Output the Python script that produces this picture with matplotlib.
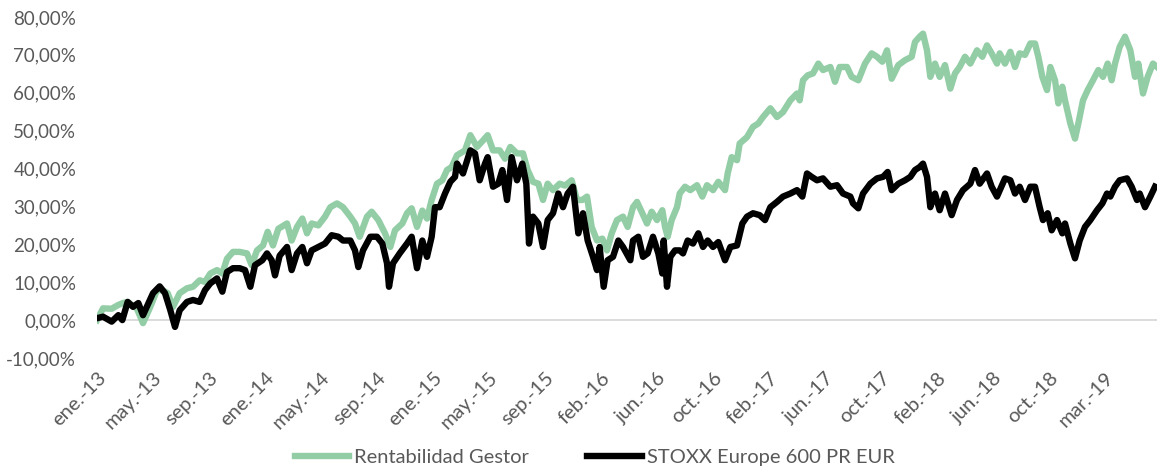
import matplotlib
matplotlib.use('Agg')
import matplotlib.pyplot as plt
from matplotlib.ticker import FuncFormatter

# Rentabilidad acumulada (%), x = numero de sesion desde ene.-13
gestor_dia = [0, 9, 22, 32, 39, 46, 60, 69, 80, 90, 98, 106, 114, 124, 135, 144,
              154, 162, 170, 180, 188, 195, 204, 214, 225, 232, 240, 249, 256, 264,
              272, 285, 292, 300, 308, 315, 322, 332, 342, 350, 360, 369, 380, 387,
              394, 405, 412, 422, 432, 440, 447, 458, 465, 472, 480, 488, 495, 502,
              510, 518, 525, 532, 540, 552, 560, 570, 579, 586, 594, 604, 612, 620,
              630, 639, 646, 654, 662, 669, 676, 684, 694, 702, 712, 720, 728, 735,
              742, 750, 758, 765, 772, 780, 789, 796, 804, 810, 818, 825, 832, 840,
              848, 852, 856, 862, 870, 874, 882, 890, 900, 908, 915, 924, 932, 942,
              946, 952, 960, 964, 975, 984, 992, 999, 1010, 1020, 1029, 1040, 1050,
              1054, 1059, 1066, 1074, 1082, 1089, 1100, 1107, 1114, 1125, 1132, 1142,
              1152, 1162, 1170, 1178, 1185, 1192, 1202, 1212, 1222, 1227, 1234, 1239,
              1245, 1250, 1257, 1264, 1272, 1280, 1287, 1294, 1302, 1310, 1320, 1328,
              1335, 1342, 1350, 1354, 1362, 1370, 1377, 1384, 1392, 1400, 1407, 1412,
              1418, 1425, 1430, 1437, 1442, 1448, 1452, 1460, 1467, 1472, 1479, 1486,
              1494, 1502, 1509, 1516, 1522, 1527, 1534, 1542, 1550, 1557, 1562, 1569,
              1576, 1584, 1590]
gestor_ret = [0.0, 3.1, 3.0, 4.0, 4.5, 4.8, 3.0, -0.8, 3.5, 7.9, 7.9, 7.1, 3.5, 7.1,
              8.4, 8.8, 10.5, 10.1, 12.3, 13.2, 12.3, 16.2, 18.0, 18.0, 17.6, 14.5,
              18.4, 19.7, 23.3, 19.7, 24.1, 25.5, 21.0, 24.6, 26.8, 22.9, 25.5, 25.0,
              27.3, 29.8, 30.8, 29.8, 27.3, 25.5, 22.0, 27.3, 28.6, 26.4, 22.9, 19.3,
              23.7, 25.5, 28.2, 29.5, 24.6, 28.9, 26.8, 31.7, 36.0, 36.9, 39.6, 40.4,
              43.5, 44.8, 48.8, 45.7, 47.4, 48.8, 44.8, 44.8, 42.6, 45.7, 44.0, 44.0,
              39.6, 36.5, 36.0, 31.7, 36.0, 34.3, 36.0, 35.5, 36.9, 31.7, 31.7, 32.6,
              24.6, 21.0, 21.5, 18.4, 22.9, 26.4, 27.3, 24.6, 29.8, 31.2, 28.2, 25.5,
              28.6, 26.4, 29.0, 24.6, 22.0, 26.4, 29.8, 33.4, 35.2, 34.3, 35.6, 32.6,
              35.6, 34.3, 36.5, 34.3, 38.7, 43.0, 42.2, 46.6, 48.3, 51.0, 51.9, 53.6,
              55.9, 53.6, 54.9, 58.0, 59.8, 58.0, 63.3, 64.6, 65.1, 67.7, 66.0, 66.8,
              62.9, 66.8, 66.8, 64.2, 63.3, 67.7, 70.4, 69.5, 68.2, 71.2, 63.7, 67.3,
              68.6, 69.5, 73.4, 74.8, 75.6, 71.2, 64.2, 67.7, 64.2, 67.3, 61.1, 65.1,
              66.8, 69.5, 67.7, 71.2, 69.5, 72.5, 70.4, 67.7, 70.4, 67.7, 70.8, 66.8,
              70.4, 70.0, 73.0, 73.0, 69.5, 64.2, 60.7, 66.8, 63.3, 57.2, 61.6, 58.0,
              51.9, 47.9, 51.9, 58.0, 60.7, 63.3, 66.0, 64.2, 67.7, 63.3, 67.7, 72.1,
              74.8, 71.2, 64.2, 67.7, 59.8, 64.2, 67.7, 66.8]

stoxx_dia = [0, 9, 22, 32, 38, 46, 54, 62, 69, 76, 84, 94, 102, 110, 117, 124, 135,
             144, 154, 162, 170, 180, 188, 195, 204, 214, 222, 230, 237, 248, 255, 262,
             267, 274, 285, 292, 300, 308, 315, 322, 332, 342, 352, 362, 369, 380, 387,
             392, 399, 410, 420, 428, 435, 438, 444, 454, 465, 472, 480, 488, 495, 502,
             507, 514, 522, 530, 537, 540, 549, 560, 567, 574, 582, 586, 594, 602, 608,
             615, 622, 630, 638, 644, 648, 654, 662, 669, 676, 684, 692, 699, 706, 714,
             722, 729, 736, 744, 750, 754, 760, 766, 774, 782, 789, 800, 804, 812, 819,
             826, 834, 842, 848, 850, 855, 860, 867, 874, 879, 886, 894, 902, 909, 916,
             924, 932, 942, 950, 960, 968, 975, 984, 994, 1002, 1010, 1020, 1029, 1040,
             1050, 1058, 1065, 1072, 1080, 1089, 1100, 1110, 1119, 1130, 1134, 1142,
             1149, 1160, 1170, 1179, 1186, 1192, 1202, 1212, 1220, 1227, 1234, 1239,
             1245, 1250, 1257, 1264, 1272, 1282, 1290, 1299, 1310, 1317, 1324, 1335,
             1342, 1350, 1362, 1370, 1377, 1384, 1392, 1400, 1407, 1414, 1419, 1426,
             1432, 1440, 1448, 1452, 1460, 1467, 1474, 1482, 1490, 1500, 1508, 1515,
             1520, 1527, 1534, 1545, 1552, 1560, 1564, 1572, 1580, 1587]
stoxx_ret = [0.5, 0.9, -0.4, 1.3, 0.0, 4.8, 3.5, 4.5, 1.3, 4.0, 7.1, 8.9, 7.1, 2.6,
             -1.8, 2.6, 4.8, 5.3, 4.8, 7.9, 9.7, 11.0, 7.5, 12.7, 13.7, 13.7, 13.2, 8.8,
             14.5, 15.8, 17.6, 15.8, 11.8, 17.0, 19.3, 13.2, 17.6, 19.3, 15.0, 18.4,
             19.3, 20.2, 22.4, 22.0, 21.0, 21.0, 18.4, 14.0, 18.4, 22.0, 22.0, 20.2,
             15.0, 8.8, 15.0, 17.6, 20.2, 22.0, 13.7, 21.0, 16.7, 22.0, 29.8, 29.8,
             33.4, 36.5, 37.8, 41.3, 38.7, 44.8, 44.0, 36.9, 41.3, 43.0, 35.2, 36.0,
             39.6, 31.7, 43.0, 36.9, 41.3, 36.0, 20.2, 27.3, 25.5, 19.3, 26.4, 28.2,
             33.4, 29.8, 33.4, 35.2, 22.9, 28.2, 21.0, 16.7, 13.2, 19.3, 8.8, 15.8,
             16.7, 21.0, 19.3, 15.8, 21.0, 22.0, 16.7, 17.6, 22.0, 17.6, 12.3, 21.0,
             8.8, 16.7, 18.4, 18.4, 17.6, 21.0, 20.2, 22.9, 19.3, 21.0, 19.3, 20.6,
             15.8, 19.3, 19.7, 25.5, 27.3, 28.2, 27.7, 26.4, 29.8, 31.2, 32.6, 33.4,
             34.3, 32.6, 38.7, 37.8, 36.9, 37.4, 35.2, 35.6, 33.4, 32.6, 30.8, 29.5,
             33.4, 36.0, 37.4, 37.8, 39.1, 34.3, 36.0, 36.9, 37.8, 39.6, 40.4, 41.3,
             37.8, 29.8, 33.4, 29.0, 33.4, 27.7, 31.7, 34.3, 36.0, 39.6, 36.0, 38.7,
             35.2, 32.6, 37.4, 36.9, 33.4, 35.2, 31.7, 35.2, 35.2, 29.8, 26.4, 28.2,
             23.7, 26.4, 22.9, 25.5, 20.2, 16.3, 21.0, 24.6, 26.4, 29.0, 30.8, 33.4,
             32.6, 35.2, 36.9, 37.4, 35.2, 31.7, 33.4, 29.8, 32.6, 35.2]

etiquetas = ['ene.-13', 'may.-13', 'sep.-13', 'ene.-14', 'may.-14', 'sep.-14',
             'ene.-15', 'may.-15', 'sep.-15', 'feb.-16', 'jun.-16', 'oct.-16',
             'feb.-17', 'jun.-17', 'oct.-17', 'feb.-18', 'jun.-18', 'oct.-18',
             'mar.-19']
paso_etiqueta = 84  # sesiones entre etiquetas
total_dias = 1590

plt.rcParams['font.family'] = ['Lato', 'DejaVu Sans']
gris = '#595959'

fig = plt.figure(figsize=(11.57, 4.69), dpi=100)
ax = fig.add_axes([97 / 1157, 0.2367, 1 - 97 / 1157, 0.7271])

ax.axhline(0, color='#d9d9d9', linewidth=1.3, zorder=1)
ax.plot(gestor_dia, gestor_ret, color='#92CDA5', linewidth=4.6,
        solid_joinstyle='round', label='Rentabilidad Gestor', zorder=2)
ax.plot(stoxx_dia, stoxx_ret, color='black', linewidth=4.6,
        solid_joinstyle='round', label='STOXX Europe 600 PR EUR', zorder=3)

ax.set_xlim(0, total_dias)
ax.set_ylim(-10, 80)
ax.set_yticks(range(-10, 81, 10))
ax.yaxis.set_major_formatter(FuncFormatter(lambda v, p: f'{v:.2f}%'.replace('.', ',')))
ax.set_xticks([i * paso_etiqueta for i in range(len(etiquetas))])
ax.set_xticklabels(etiquetas, rotation=45, ha='right', rotation_mode='anchor')

for s in ax.spines.values():
    s.set_visible(False)
ax.tick_params(axis='y', length=0, pad=15, labelsize=13.5, labelcolor=gris)
ax.tick_params(axis='x', length=0, pad=8, labelsize=14.5, labelcolor=gris)

fig.legend(loc='center', bbox_to_anchor=(0.514, 0.024), ncol=2, frameon=False,
           fontsize=14.5, labelcolor=gris, handlelength=2.7, columnspacing=2.9,
           handletextpad=0.25)

fig.savefig('out.png', dpi=100)
